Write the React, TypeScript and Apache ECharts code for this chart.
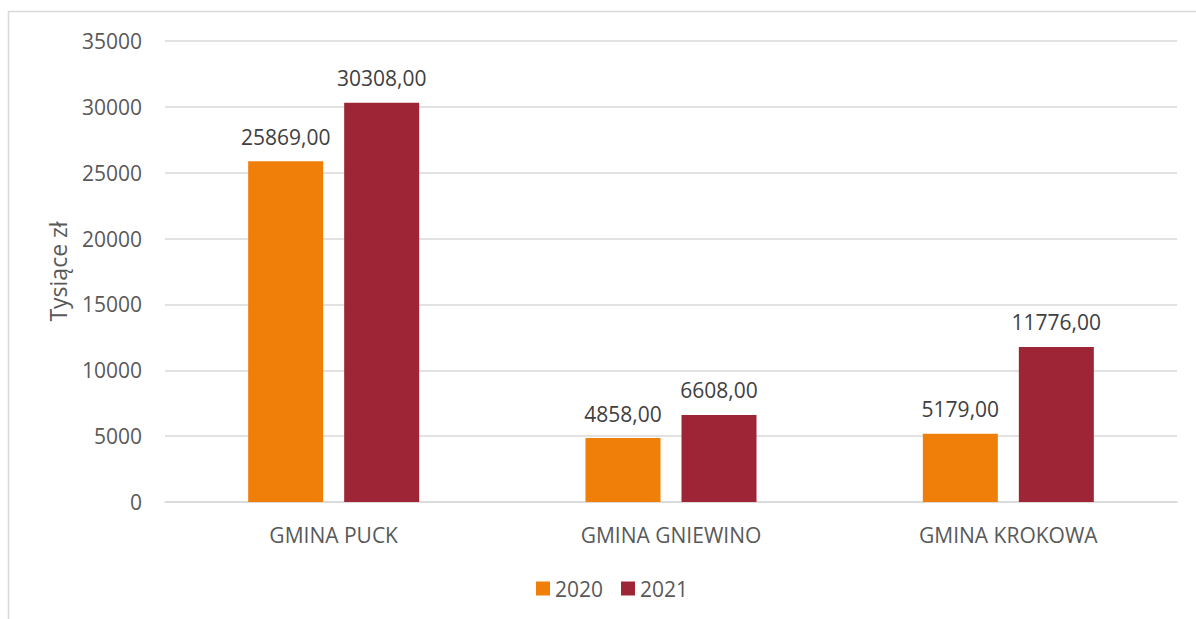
import React, { useEffect, useRef } from "react";
import * as echarts from "echarts";

const categories = ["GMINA PUCK", "GMINA GNIEWINO", "GMINA KROKOWA"];
const values2020 = [25869, 4858, 5179];
const values2021 = [30308, 6608, 11776];
const seriesNames = ["2020", "2021"];
const yTitle = "Tysiące zł";

const FONT = "'Open Sans', sans-serif";

export default function App() {
  const ref = useRef<HTMLDivElement>(null);
  useEffect(() => {
    document.body.style.margin = "0";
    const chart = echarts.init(ref.current!, null, { renderer: "svg" });
    const fmt = (p: any) => Number(p.value).toFixed(2).replace(".", ",");
    const label = {
      show: true,
      position: "top",
      distance: 14,
      formatter: fmt,
      color: "#404040",
      fontSize: 21,
      fontFamily: FONT,
    };
    chart.setOption({
      animation: false,
      backgroundColor: "#ffffff",
      graphic: [
        {
          type: "rect",
          shape: { x: 8.5, y: 11.5, width: 1300, height: 700 },
          style: { fill: "none", stroke: "#D9D9D9", lineWidth: 1.5 },
          silent: true,
          z: -1,
        },
      ],
      grid: { left: 165, right: 19, top: 41, bottom: 117, containLabel: false },
      legend: {
        data: seriesNames,
        left: 531,
        top: 573,
        itemWidth: 14,
        itemHeight: 14,
        itemGap: 18,
        icon: "rect",
        textStyle: { color: "#595959", fontSize: 21, fontFamily: FONT },
      },
      xAxis: {
        type: "category",
        data: categories,
        axisLine: { show: true, lineStyle: { color: "#D9D9D9", width: 1.5 } },
        axisTick: { show: false },
        axisLabel: { color: "#595959", fontSize: 21, fontFamily: FONT, margin: 22 },
      },
      yAxis: {
        type: "value",
        min: 0,
        max: 35000,
        interval: 5000,
        name: yTitle,
        nameLocation: "middle",
        nameGap: 96,
        nameRotate: 90,
        nameTextStyle: { color: "#595959", fontSize: 23, fontFamily: FONT },
        axisLine: { show: false },
        axisTick: { show: false },
        splitLine: { lineStyle: { color: "#D9D9D9", width: 1.5 } },
        axisLabel: {
          color: "#595959",
          fontSize: 21,
          fontFamily: FONT,
          margin: 23,
          formatter: (v: number) => String(v),
        },
      },
      series: [
        {
          name: seriesNames[0],
          type: "bar",
          data: values2020,
          barWidth: 75,
          barGap: "28%",
          itemStyle: { color: "#F07F09" },
          label,
        },
        {
          name: seriesNames[1],
          type: "bar",
          data: values2021,
          barWidth: 75,
          barGap: "28%",
          itemStyle: { color: "#9E2536" },
          label,
        },
      ],
    });
    return () => chart.dispose();
  }, []);
  return (
    <div
      ref={ref}
      style={{ position: "absolute", left: 0, top: 0, width: 1196, height: 619 }}
    />
  );
}
